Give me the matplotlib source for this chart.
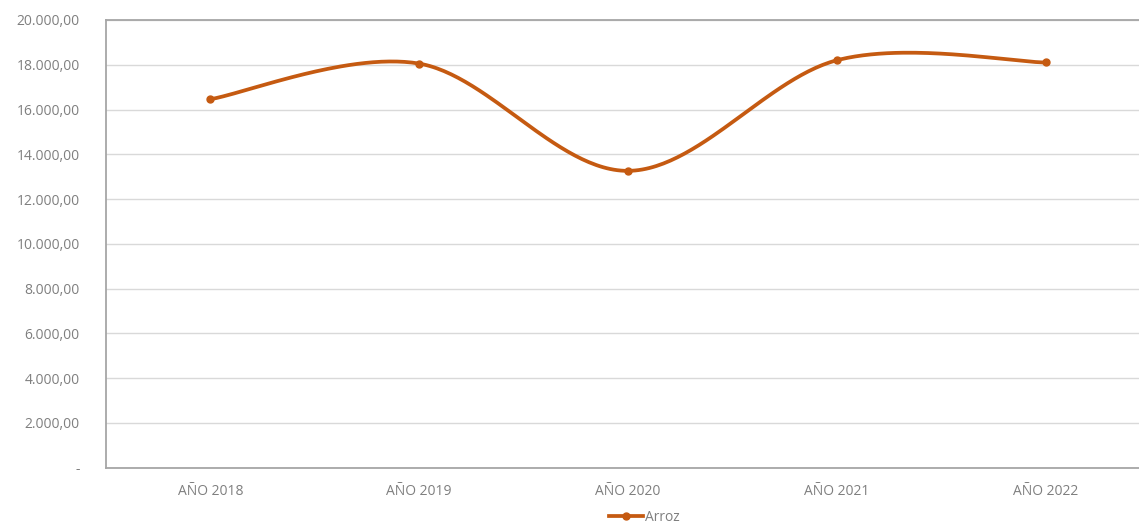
import numpy as np
import matplotlib.pyplot as plt
from matplotlib.lines import Line2D
from matplotlib.ticker import FuncFormatter

# Datos
years = ["AÑO 2018", "AÑO 2019", "AÑO 2020", "AÑO 2021", "AÑO 2022"]
arroz = [16460, 18050, 13260, 18200, 18100]
y_ticks = [0, 2000, 4000, 6000, 8000, 10000, 12000, 14000, 16000, 18000, 20000]

color = "#C55A11"
text_color = "#7F7F7F"


def excel_smooth(x, y, n=60):
    # bezier como la línea suavizada de Excel
    px = np.concatenate([[x[0]], x, [x[-1]]])
    py = np.concatenate([[y[0]], y, [y[-1]]])
    xs, ys = [], []
    t = np.linspace(0, 1, n)
    for i in range(1, len(px) - 2):
        p0 = np.array([px[i], py[i]])
        p3 = np.array([px[i + 1], py[i + 1]])
        c1 = p0 + (np.array([px[i + 1], py[i + 1]]) - np.array([px[i - 1], py[i - 1]])) / 6
        c2 = p3 - (np.array([px[i + 2], py[i + 2]]) - np.array([px[i], py[i]])) / 6
        b = ((1 - t) ** 3)[:, None] * p0 + (3 * (1 - t) ** 2 * t)[:, None] * c1 \
            + (3 * (1 - t) * t ** 2)[:, None] * c2 + (t ** 3)[:, None] * p3
        xs.extend(b[:, 0])
        ys.extend(b[:, 1])
    return np.array(xs), np.array(ys)


def fmt(v, pos):
    if v == 0:
        return "-"
    s = f"{v:,.2f}"
    return s.replace(",", "X").replace(".", ",").replace("X", ".")


plt.rcParams["font.family"] = ["Open Sans", "DejaVu Sans"]

fig = plt.figure(figsize=(11.39, 5.28), dpi=100)
ax = fig.add_axes([0.0931, 0.1142, 0.9166, 0.848])

x = np.arange(len(years))
sx, sy = excel_smooth(x.astype(float), np.array(arroz, dtype=float))
ax.plot(sx, sy, color=color, lw=2.7, solid_capstyle="round", zorder=3)
ax.plot(x, arroz, "o", color=color, ms=5, zorder=4)

ax.set_xlim(-0.5, 4.5)
ax.set_ylim(0, 20000)
ax.set_yticks(y_ticks)
ax.yaxis.set_major_formatter(FuncFormatter(fmt))
ax.set_xticks(x)
ax.set_xticklabels(years)
ax.grid(axis="y", color="#D9D9D9", lw=1)
ax.set_axisbelow(True)
for s in ax.spines.values():
    s.set_color("#A6A6A6")
    s.set_linewidth(1.3)
ax.tick_params(axis="both", length=0, labelsize=10, labelcolor=text_color)
ax.tick_params(axis="y", pad=19)
ax.tick_params(axis="x", pad=12)

handle = Line2D([], [], color=color, lw=2.7, marker="o", ms=5)
fig.legend([handle], ["Arroz"], loc="lower center", bbox_to_anchor=(0.566, -0.018),
           frameon=False, fontsize=10, labelcolor=text_color, handlelength=2.4,
           handletextpad=0.2)

fig.savefig("out.png", dpi=100)
